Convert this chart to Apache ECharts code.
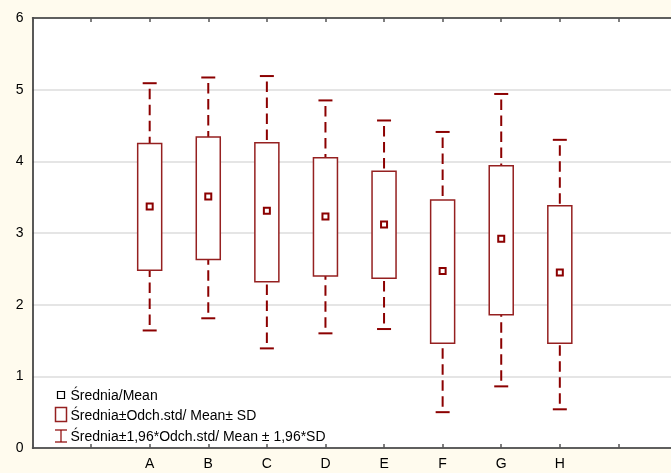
<!DOCTYPE html>
<html>
<head>
<meta charset="utf-8">
<script src="https://cdn.jsdelivr.net/npm/echarts@6/dist/echarts.min.js"></script>
<style>html,body{margin:0;padding:0;background:#FFFBEE;overflow:hidden;}#c{width:671px;height:473px;}</style>
</head>
<body>
<div id="c"></div>
<script>
var categories = ['A','B','C','D','E','F','G','H'];
var means   = [3.37, 3.51, 3.31, 3.23, 3.12, 2.47, 2.92, 2.45];
var sdLow   = [2.48, 2.63, 2.32, 2.40, 2.37, 1.46, 1.86, 1.46];
var sdHigh  = [4.25, 4.34, 4.26, 4.05, 3.86, 3.46, 3.94, 3.38];
var ciLow   = [1.64, 1.81, 1.39, 1.60, 1.66, 0.50, 0.86, 0.54];
var ciHigh  = [5.09, 5.17, 5.19, 4.85, 4.57, 4.41, 4.94, 4.30];
var yTicks  = [0, 1, 2, 3, 4, 5, 6];
var legendTexts = ['Średnia/Mean', 'Średnia±Odch.std/ Mean± SD', 'Średnia±1,96*Odch.std/ Mean ± 1,96*SD'];

var OFFSET = 2; // category i sits at x = i + OFFSET
var XMAX = 11;
var RED = '#8B0000';
var BOXRED = '#952020';

var whiskerData = categories.map(function (c, i) { return [i + OFFSET, ciLow[i], sdLow[i], sdHigh[i], ciHigh[i]]; });
var boxData = categories.map(function (c, i) { return [i + OFFSET, sdLow[i], sdHigh[i]]; });
var meanData = categories.map(function (c, i) { return [i + OFFSET, means[i]]; });

var chart = echarts.init(document.getElementById('c'), null, {renderer: 'canvas'});
var FONT = 'Liberation Sans, Arial, sans-serif';

var axisCommon = {
  type: 'value', min: 0, max: XMAX, interval: 1,
  axisLine: {show: true, lineStyle: {color: '#333', width: 1.5}},
  axisTick: {show: true, inside: true, length: 4, lineStyle: {color: '#555', width: 1.5}},
  splitLine: {show: false}
};

var option = {
  backgroundColor: '#FFFBEE',
  animation: false,
  grid: {left: 32.5, right: -6, top: 18, bottom: 25, backgroundColor: '#fff', show: true, borderWidth: 0, borderColor: 'transparent', outerBoundsMode: 'none', containLabel: false},
  xAxis: [
    Object.assign({}, axisCommon, {
      position: 'bottom',
      axisLabel: {
        fontSize: 14, color: '#000', fontFamily: FONT, margin: 9,
        formatter: function (v) { var r = Math.round(v); if (Math.abs(v - r) > 1e-6) return ''; var k = r - OFFSET; return (k >= 0 && k < categories.length) ? categories[k] : ''; }
      }
    }),
    Object.assign({}, axisCommon, {position: 'top', axisLabel: {show: false}})
  ],
  yAxis: {
    type: 'value', min: yTicks[0], max: yTicks[yTicks.length - 1], interval: 1,
    axisLine: {show: true, lineStyle: {color: '#222', width: 1.5}},
    axisTick: {show: false},
    splitLine: {show: true, lineStyle: {color: '#dcdcdc', width: 1.5}},
    axisLabel: {fontSize: 14, color: '#000', fontFamily: FONT, margin: 9}
  },
  series: [
    {
      type: 'custom', name: 'whisker', xAxisIndex: 0, data: whiskerData, z: 2,
      renderItem: function (params, api) {
        var x = api.coord([api.value(0), 0])[0];
        var yLo = api.coord([0, api.value(1)])[1];
        var yBoxLo = api.coord([0, api.value(2)])[1];
        var yBoxHi = api.coord([0, api.value(3)])[1];
        var yHi = api.coord([0, api.value(4)])[1];
        var dashStyle = {stroke: RED, lineWidth: 2, lineDash: [10.5, 5.5], lineDashOffset: 10.5};
        var solid = {stroke: RED, lineWidth: 2};
        var cw = 7;
        return {
          type: 'group',
          children: [
            {type: 'line', shape: {x1: x, y1: yHi, x2: x, y2: yBoxHi}, style: dashStyle},
            {type: 'line', shape: {x1: x, y1: yLo, x2: x, y2: yBoxLo}, style: dashStyle},
            {type: 'line', shape: {x1: x - cw, y1: yHi, x2: x + cw, y2: yHi}, style: solid},
            {type: 'line', shape: {x1: x - cw, y1: yLo, x2: x + cw, y2: yLo}, style: solid}
          ]
        };
      }
    },
    {
      type: 'custom', name: 'box', xAxisIndex: 0, data: boxData, z: 3,
      renderItem: function (params, api) {
        var x = api.coord([api.value(0), 0])[0];
        var yLo = api.coord([0, api.value(1)])[1];
        var yHi = api.coord([0, api.value(2)])[1];
        var w = 24;
        return {
          type: 'rect',
          shape: {x: x - w / 2, y: yHi, width: w, height: yLo - yHi},
          style: {fill: '#fff', stroke: BOXRED, lineWidth: 1.5}
        };
      }
    },
    {
      type: 'scatter', name: 'mean', xAxisIndex: 0, data: meanData, z: 4,
      symbol: 'rect', symbolSize: 6,
      itemStyle: {color: '#fff', borderColor: RED, borderWidth: 2, opacity: 1}
    }
  ],
  graphic: [
    {type: 'rect', shape: {x: 57.5, y: 391.5, width: 7, height: 7}, style: {fill: '#fff', stroke: '#000', lineWidth: 1.2}, z: 10},
    {type: 'rect', shape: {x: 55.5, y: 407.5, width: 11, height: 14}, style: {fill: '#fff', stroke: BOXRED, lineWidth: 1.5}, z: 10},
    {type: 'line', shape: {x1: 61, y1: 430, x2: 61, y2: 442}, style: {stroke: RED, lineWidth: 1.2}, z: 10},
    {type: 'line', shape: {x1: 55, y1: 430, x2: 67, y2: 430}, style: {stroke: RED, lineWidth: 1.2}, z: 10},
    {type: 'line', shape: {x1: 55, y1: 442, x2: 67, y2: 442}, style: {stroke: RED, lineWidth: 1.2}, z: 10},
    {type: 'text', x: 70.5, y: 396, style: {text: legendTexts[0], fill: '#000', font: '14px ' + FONT, verticalAlign: 'middle'}, z: 10},
    {type: 'text', x: 70.5, y: 416, style: {text: legendTexts[1], fill: '#000', font: '14px ' + FONT, verticalAlign: 'middle'}, z: 10},
    {type: 'text', x: 70.5, y: 437, style: {text: legendTexts[2], fill: '#000', font: '14px ' + FONT, verticalAlign: 'middle'}, z: 10}
  ]
};
chart.setOption(option);
</script>
</body>
</html>
